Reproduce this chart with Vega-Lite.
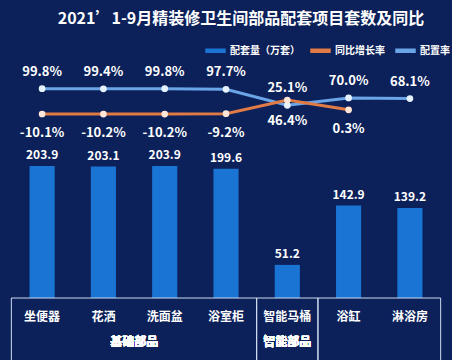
{
  "$schema": "https://vega.github.io/schema/vega-lite/v6.json",
  "width": 452,
  "height": 360,
  "autosize": {"type": "fit", "contains": "padding"},
  "padding": 0,
  "background": "#0c215a",
  "config": {
    "view": {"stroke": null},
    "font": "Noto Sans CJK SC",
    "locale": {"number": {"decimal": ".", "thousands": ",", "grouping": [3], "currency": ["", ""], "minus": "-"}}
  },
  "title": {
    "text": "2021’1-9月精装修卫生间部品配套项目套数及同比",
    "orient": "top",
    "anchor": "middle",
    "offset": -27,
    "dx": 15,
    "fontSize": 16,
    "fontWeight": "bold",
    "color": "#ffffff",
    "font": "Noto Sans CJK SC"
  },
  "datasets": {
    "main": [
      {"cat": "坐便器", "vol": 203.9, "rate": 0.998, "yoy": -0.101},
      {"cat": "花洒", "vol": 203.1, "rate": 0.994, "yoy": -0.102},
      {"cat": "洗面盆", "vol": 203.9, "rate": 0.998, "yoy": -0.102},
      {"cat": "浴室柜", "vol": 199.6, "rate": 0.977, "yoy": -0.092},
      {"cat": "智能马桶", "vol": 51.2, "rate": 0.464, "yoy": 0.251},
      {"cat": "浴缸", "vol": 142.9, "rate": 0.700, "yoy": 0.003},
      {"cat": "淋浴房", "vol": 139.2, "rate": 0.681, "yoy": null}
    ],
    "groups": [
      {"g": "基础部品", "a": "坐便器", "b": "浴室柜"},
      {"g": "智能部品", "a": "智能马桶", "b": "智能马桶"},
      {"g": "其他部品", "a": "浴缸", "b": "淋浴房"}
    ]
  },
  "data": {"name": "main"},
  "encoding": {
    "x": {"field": "cat", "type": "nominal", "sort": null, "axis": null,
          "scale": {"paddingInner": 0.59, "paddingOuter": 0.482}}
  },
  "layer": [
    {
      "layer": [
        {
          "mark": {"type": "bar"},
          "encoding": {
            "y": {"field": "vol", "type": "quantitative", "axis": null, "scale": {"domain": [-95.8, 460.6], "nice": false, "zero": false}},
            "color": {"datum": "配套量（万套）", "type": "nominal",
              "scale": {"domain": ["配套量（万套）", "同比增长率", "配置率"], "range": ["#1a74d4", "#e07b45", "#6aa5e8"]},
              "legend": {"orient": "none", "legendX": 205, "legendY": 40, "direction": "horizontal", "title": null,
                "symbolType": "M-1,-0.22H1V0.22H-1Z", "symbolSize": 420, "labelColor": "#ffffff", "labelFontSize": 10,
                "labelFontWeight": "bold", "columnPadding": 10, "symbolOffset": 0, "labelOffset": 4, "symbolStrokeWidth": 0}}
          }
        },
        {
          "mark": {"type": "text", "baseline": "bottom", "dy": -4, "fontSize": 12, "fontWeight": "bold", "color": "#ffffff"},
          "encoding": {
            "y": {"field": "vol", "type": "quantitative", "axis": null, "scale": {"domain": [-95.8, 460.6], "nice": false, "zero": false}},
            "text": {"field": "vol", "type": "quantitative", "format": ".1f"}
          }
        },
        {
          "mark": {"type": "text", "baseline": "middle", "fontSize": 12, "fontWeight": "bold", "color": "#ffffff"},
          "encoding": {
            "y": {"datum": -29, "type": "quantitative", "axis": null, "scale": {"domain": [-95.8, 460.6], "nice": false, "zero": false}},
            "text": {"field": "cat"}
          }
        },
        {
          "data": {"name": "groups"},
          "mark": {"type": "rect", "fillOpacity": 0, "stroke": "#cfdcf0", "strokeWidth": 1, "clip": true},
          "encoding": {
            "x": {"field": "a", "type": "nominal", "bandPosition": -0.724},
            "x2": {"field": "b", "bandPosition": 1.724},
            "y": {"datum": 0, "type": "quantitative", "axis": null, "scale": {"domain": [-95.8, 460.6], "nice": false, "zero": false}},
            "y2": {"datum": -110}
          }
        },
        {
          "mark": {"type": "text", "baseline": "middle", "fontSize": 12, "fontWeight": "bold", "color": "#ffffff"},
          "encoding": {
            "x": {"datum": "花洒", "type": "nominal", "bandPosition": 1.726},
            "y": {"datum": -67.5, "type": "quantitative", "axis": null, "scale": {"domain": [-95.8, 460.6], "nice": false, "zero": false}},
            "text": {"value": "基础部品"}
          }
        },
        {
          "mark": {"type": "text", "baseline": "middle", "fontSize": 12, "fontWeight": "bold", "color": "#ffffff"},
          "encoding": {
            "x": {"datum": "智能马桶", "type": "nominal", "bandPosition": 0.5},
            "y": {"datum": -67.5, "type": "quantitative", "axis": null, "scale": {"domain": [-95.8, 460.6], "nice": false, "zero": false}},
            "text": {"value": "智能部品"}
          }
        }
      ]
    },
    {
      "layer": [
        {
          "mark": {"type": "line", "strokeWidth": 3},
          "encoding": {
            "y": {"field": "rate", "type": "quantitative", "axis": null, "scale": {"domain": [-7.725, 3.85], "nice": false, "zero": false}},
            "color": {"datum": "配置率", "type": "nominal"}
          }
        },
        {
          "mark": {"type": "point", "filled": true, "size": 45, "fill": "#e6f3ff", "opacity": 1},
          "encoding": {
            "y": {"field": "rate", "type": "quantitative", "axis": null, "scale": {"domain": [-7.725, 3.85], "nice": false, "zero": false}}
          }
        },
        {
          "transform": [{"filter": "datum.cat !== '智能马桶'"}],
          "mark": {"type": "text", "baseline": "middle", "dy": -17, "fontSize": 13, "fontWeight": "bold", "color": "#ffffff"},
          "encoding": {
            "y": {"field": "rate", "type": "quantitative", "axis": null, "scale": {"domain": [-7.725, 3.85], "nice": false, "zero": false}},
            "text": {"field": "rate", "type": "quantitative", "format": ".1%"}
          }
        },
        {
          "transform": [{"filter": "datum.cat === '智能马桶'"}],
          "mark": {"type": "text", "baseline": "middle", "dy": 16, "fontSize": 13, "fontWeight": "bold", "color": "#ffffff"},
          "encoding": {
            "y": {"field": "rate", "type": "quantitative", "axis": null, "scale": {"domain": [-7.725, 3.85], "nice": false, "zero": false}},
            "text": {"field": "rate", "type": "quantitative", "format": ".1%"}
          }
        }
      ]
    },
    {
      "transform": [{"filter": "isValid(datum.yoy)"}],
      "layer": [
        {
          "mark": {"type": "line", "strokeWidth": 3},
          "encoding": {
            "y": {"field": "yoy", "type": "quantitative", "axis": null, "scale": {"domain": [-6.282, 2.763], "nice": false, "zero": false}},
            "color": {"datum": "同比增长率", "type": "nominal"}
          }
        },
        {
          "mark": {"type": "point", "filled": true, "size": 45, "fill": "#ffe6d6", "opacity": 1},
          "encoding": {
            "y": {"field": "yoy", "type": "quantitative", "axis": null, "scale": {"domain": [-6.282, 2.763], "nice": false, "zero": false}}
          }
        },
        {
          "transform": [{"filter": "datum.cat !== '智能马桶'"}],
          "mark": {"type": "text", "baseline": "middle", "dy": 19, "fontSize": 13, "fontWeight": "bold", "color": "#ffffff"},
          "encoding": {
            "y": {"field": "yoy", "type": "quantitative", "axis": null, "scale": {"domain": [-6.282, 2.763], "nice": false, "zero": false}},
            "text": {"field": "yoy", "type": "quantitative", "format": ".1%"}
          }
        },
        {
          "transform": [{"filter": "datum.cat === '智能马桶'"}],
          "mark": {"type": "text", "baseline": "middle", "dy": -12, "fontSize": 13, "fontWeight": "bold", "color": "#ffffff"},
          "encoding": {
            "y": {"field": "yoy", "type": "quantitative", "axis": null, "scale": {"domain": [-6.282, 2.763], "nice": false, "zero": false}},
            "text": {"field": "yoy", "type": "quantitative", "format": ".1%"}
          }
        }
      ]
    }
  ],
  "resolve": {"scale": {"y": "independent"}}
}
